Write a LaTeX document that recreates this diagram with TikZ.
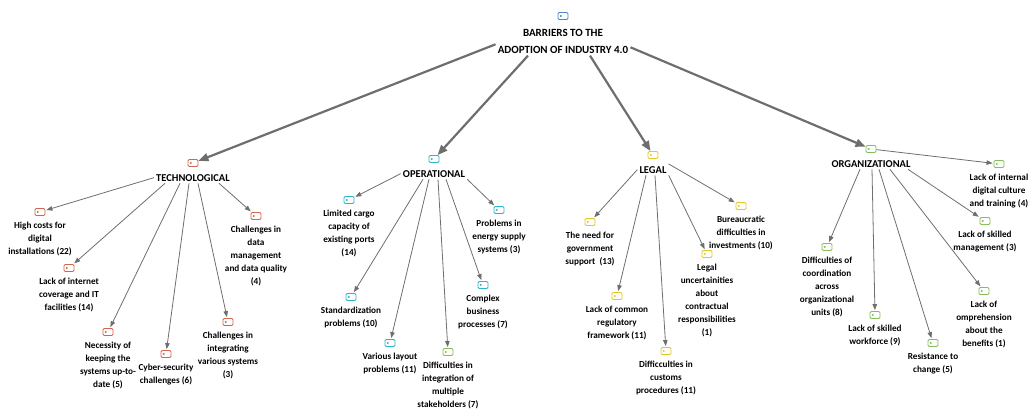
\documentclass[tikz,border=0pt]{standalone}
\usepackage{fontspec}
\setmainfont{Carlito}
\usetikzlibrary{arrows.meta, positioning}

\definecolor{rootcol}{HTML}{4F86C6}
\definecolor{techcol}{HTML}{D2674F}
\definecolor{opcol}{HTML}{2FB5C8}
\definecolor{legcol}{HTML}{E2C92A}
\definecolor{orgcol}{HTML}{86BF5A}
\definecolor{linecol}{HTML}{6E6E6E}

\begin{document}
\begin{tikzpicture}[
    x=1pt, y=-1pt,
    icon/.style={draw=#1, line width=0.9pt, rounded corners=1.2pt, minimum width=10pt, minimum height=7pt, inner sep=0pt,
        path picture={\fill[#1] ([xshift=2.8pt]path picture bounding box.west) circle (1.1pt);}},
    root/.style={font=\fontsize{11}{17}\selectfont\bfseries, align=center, inner sep=2pt},
    category/.style={font=\fontsize{10.5}{13}\selectfont\bfseries, inner sep=2pt},
    leaf/.style={font=\fontsize{9.2}{13}\selectfont\bfseries, align=center, inner sep=0pt},
    bigarrow/.style={line width=2.2pt, draw=linecol, -{Triangle[length=10pt, width=8pt]}},
    arrow/.style={line width=0.8pt, draw=linecol, -{Triangle[length=6pt, width=4.5pt]}, shorten >=1pt}
]
\useasboundingbox (0,0) rectangle (1028,411);

% root
\node (rootI) [icon=rootcol] at (563,16) {};
\node (root) [root, below=7pt of rootI] {BARRIERS TO THE\\ADOPTION OF INDUSTRY 4.0};

% categories
\node (techI) [icon=techcol] at (193,163) {};
\node (tech) [category, below=5pt of techI] {TECHNOLOGICAL};
\node (opI) [icon=opcol] at (434,159) {};
\node (op) [category, below=5pt of opI] {OPERATIONAL};
\node (legI) [icon=legcol] at (653,155) {};
\node (leg) [category, below=5pt of legI] {LEGAL};
\node (orgI) [icon=orgcol] at (871,149) {};
\node (org) [category, below=5pt of orgI] {ORGANIZATIONAL};

% technological
\node (hcI) [icon=techcol] at (40,212) {};
\node (hc) [leaf, below=5.5pt of hcI] {High costs for\\digital\\installations (22)};
\node (netI) [icon=techcol] at (69,268) {};
\node (net) [leaf, below=5.5pt of netI] {Lack of internet\\coverage and IT\\facilities (14)};
\node (updI) [icon=techcol] at (108,332) {};
\node (upd) [leaf, below=5.5pt of updI] {Necessity of\\keeping the\\systems up-to-\\date (5)};
\node (cyberI) [icon=techcol] at (166,354) {};
\node (cyber) [leaf, below=5.5pt of cyberI] {Cyber-security\\challenges (6)};
\node (integI) [icon=techcol] at (228,322) {};
\node (integ) [leaf, below=5.5pt of integI] {Challenges in\\integrating\\various systems\\(3)};
\node (dataI) [icon=techcol] at (256,216) {};
\node (data) [leaf, below=5.5pt of dataI] {Challenges in\\data\\management\\and data quality\\(4)};

% operational
\node (cargoI) [icon=opcol] at (349,200) {};
\node (cargo) [leaf, below=5.5pt of cargoI] {Limited cargo\\capacity of\\existing ports\\(14)};
\node (energyI) [icon=opcol] at (499,210) {};
\node (energy) [leaf, below=5.5pt of energyI] {Problems in\\energy supply\\systems (3)};
\node (stdI) [icon=opcol] at (351,297) {};
\node (std) [leaf, below=5.5pt of stdI] {Standardization\\problems (10)};
\node (complexI) [icon=opcol] at (483,285) {};
\node (complex) [leaf, below=5.5pt of complexI] {Complex\\business\\processes (7)};
\node (layoutI) [icon=opcol] at (390,343) {};
\node (layout) [leaf, below=5.5pt of layoutI] {Various layout\\problems (11)};
\node (stakeI) [icon=orgcol] at (448,352) {};
\node (stake) [leaf, below=5.5pt of stakeI] {Difficulties in\\integration of\\multiple\\stakeholders (7)};

% legal
\node (govtI) [icon=legcol] at (590,222) {};
\node (govt) [leaf, below=5.5pt of govtI] {The need for\\government\\support~~(13)};
\node (bureauI) [icon=legcol] at (741,206) {};
\node (bureau) [leaf, below=5.5pt of bureauI] {Bureaucratic\\difficulties in\\investments (10)};
\node (uncertI) [icon=legcol] at (707,254) {};
\node (uncert) [leaf, below=5.5pt of uncertI] {Legal\\uncertainities\\about\\contractual\\responsibilities\\(1)};
\node (regulI) [icon=legcol] at (617,296) {};
\node (regul) [leaf, below=5.5pt of regulI] {Lack of common\\regulatory\\framework (11)};
\node (customsI) [icon=legcol] at (666,351) {};
\node (customs) [leaf, below=5.5pt of customsI] {Difficculties in\\customs\\procedures (11)};

% organizational
\node (cultureI) [icon=orgcol] at (999,164) {};
\node (culture) [leaf, below=5.5pt of cultureI] {Lack of internal\\digital culture\\and training (4)};
\node (mgmtI) [icon=orgcol] at (985,221) {};
\node (mgmt) [leaf, below=5.5pt of mgmtI] {Lack of skilled\\management (3)};
\node (coordI) [icon=orgcol] at (827,247) {};
\node (coord) [leaf, below=5.5pt of coordI] {Difficulties of\\coordination\\across\\organizational\\units (8)};
\node (comprI) [icon=orgcol] at (984,291) {};
\node (compr) [leaf, below=5.5pt of comprI] {Lack of\\omprehension\\about the\\benefits (1)};
\node (workI) [icon=orgcol] at (875,315) {};
\node (work) [leaf, below=5.5pt of workI] {Lack of skilled\\workforce (9)};
\node (resistI) [icon=orgcol] at (933,343) {};
\node (resist) [leaf, below=5.5pt of resistI] {Resistance to\\change (5)};

% root arrows
\draw [bigarrow] ([yshift=-3pt]root.west) -- (techI);
\draw [bigarrow] ([xshift=-35pt]root.south) -- (opI);
\draw [bigarrow] ([xshift=27pt]root.south) -- (legI);
\draw [bigarrow] ([yshift=-6pt]root.east) -- (orgI);

% technological arrows
\draw [arrow] (tech.west) -- (hcI);
\draw [arrow] ([xshift=-28pt]tech.south) -- (netI);
\draw [arrow] ([xshift=-13pt]tech.south) -- (updI);
\draw [arrow] ([xshift=-4pt]tech.south) -- (cyberI);
\draw [arrow] ([xshift=5pt]tech.south) -- (integI);
\draw [arrow] ([xshift=26pt]tech.south) -- (dataI);

% operational arrows
\draw [arrow] (op.west) -- (cargoI);
\draw [arrow] ([xshift=-11pt]op.south) -- (stdI);
\draw [arrow] ([xshift=-5pt]op.south) -- (layoutI);
\draw [arrow] ([xshift=4pt]op.south) -- (stakeI);
\draw [arrow] ([xshift=12pt]op.south) -- (complexI);
\draw [arrow] (op.south east) -- (energyI);

% legal arrows
\draw [arrow] (leg.west) -- (govtI);
\draw [arrow] ([xshift=-7pt]leg.south) -- (regulI);
\draw [arrow] ([xshift=2pt]leg.south) -- (customsI);
\draw [arrow] (leg.south east) -- (uncertI);
\draw [arrow] (leg.north east) -- (bureauI);

% organizational arrows
\draw [arrow] ([xshift=-11pt]org.south) -- (coordI);
\draw [arrow] ([xshift=1pt]org.south) -- (workI);
\draw [arrow] ([xshift=8pt]org.south) -- (resistI);
\draw [arrow] ([xshift=19pt]org.south) -- (comprI);
\draw [arrow] ([xshift=37pt]org.south) -- (mgmtI);
\draw [arrow] (orgI) -- (cultureI);

\end{tikzpicture}
\end{document}
